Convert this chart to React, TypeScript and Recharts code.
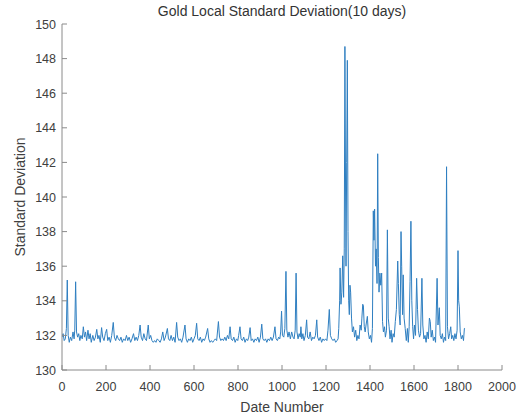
import React from 'react';
import { LineChart, Line, XAxis, YAxis } from 'recharts';

const chartTitle = 'Gold Local Standard Deviation(10 days)';
const xLabel = 'Date Number';
const yLabel = 'Standard Deviation';

const xTicks = [0, 200, 400, 600, 800, 1000, 1200, 1400, 1600, 1800, 2000];
const yTicks = [130, 132, 134, 136, 138, 140, 142, 144, 146, 148, 150];

// date number, standard deviation
const seg0: [number, number][] = [
  [0, 131.9], [5, 132.1], [10, 131.7], [15, 131.8], [20, 132.4], [24, 135.2], [28, 132.0], [33, 131.6],
  [38, 131.9], [44, 131.7], [50, 132.2], [55, 131.8], [58, 132.3], [62, 135.1], [66, 132.2], [71, 131.9],
  [76, 132.1], [81, 131.7], [86, 132.0], [92, 131.8], [97, 132.5], [102, 131.9], [107, 132.2], [112, 131.7],
  [118, 132.3], [123, 131.8], [128, 132.1], [133, 131.6], [140, 132.0], [146, 131.7], [152, 131.9], [158, 132.35],
  [163, 131.8], [168, 132.0], [174, 131.6], [180, 132.45], [185, 131.9], [191, 131.7], [197, 132.1], [203, 132.35],
  [208, 131.7], [214, 131.9], [220, 131.6], [226, 132.0], [233, 132.75], [238, 131.9], [244, 131.7],
];
const seg1: [number, number][] = [
  [250, 132.0], [256, 131.8], [262, 131.7], [268, 131.9], [274, 131.6], [280, 131.8], [287, 131.7], [293, 132.0],
  [299, 131.7], [305, 131.9], [312, 131.6], [318, 131.8], [325, 132.1], [331, 131.7], [337, 131.9], [343, 131.7],
  [349, 132.0], [355, 132.6], [360, 131.9], [366, 131.7], [372, 132.1], [378, 131.8], [384, 131.7], [392, 132.6],
  [397, 131.8], [403, 132.0], [409, 131.7], [415, 131.6], [421, 131.7], [427, 131.6], [433, 131.8], [440, 131.7],
  [446, 131.6], [452, 131.8], [458, 132.2], [464, 131.7], [470, 131.9], [479, 132.4], [484, 131.8], [490, 131.7],
  [496, 132.0],
];
const seg2: [number, number][] = [
  [502, 131.7], [508, 131.9], [514, 131.6], [521, 132.75], [526, 131.9], [532, 131.7], [538, 131.8], [544, 131.6],
  [550, 131.9], [559, 132.6], [564, 131.8], [570, 131.6], [576, 131.8], [582, 131.7], [588, 131.9], [594, 131.6],
  [600, 131.8], [606, 132.0], [612, 132.7], [617, 131.8], [623, 131.7], [629, 131.9], [635, 131.6], [641, 131.8],
  [647, 131.7], [653, 131.9], [662, 132.4], [667, 131.8], [673, 131.6], [679, 131.7], [685, 131.6], [691, 131.7],
  [697, 131.8], [703, 131.7], [711, 132.8], [716, 131.9], [722, 131.7], [728, 131.8], [734, 131.7], [740, 131.9],
  [746, 131.7],
];
const seg3: [number, number][] = [
  [752, 132.0], [758, 131.8], [764, 132.5], [769, 131.8], [775, 131.7], [781, 131.9], [787, 131.6], [793, 131.8],
  [799, 131.7], [803, 132.0], [809, 132.5], [814, 131.8], [820, 131.7], [826, 131.9], [832, 131.6], [838, 131.8],
  [844, 131.7], [849, 131.9], [855, 132.45], [860, 131.7], [866, 131.8], [872, 131.6], [878, 131.8], [884, 131.7],
  [890, 131.9], [896, 131.6], [902, 131.9], [908, 132.65], [913, 131.8], [919, 131.7], [925, 131.8], [931, 131.6],
  [937, 131.8], [943, 131.7], [949, 131.9], [955, 131.7], [961, 131.9], [968, 132.5], [973, 131.8], [979, 131.7],
  [985, 131.9], [990, 131.8],
];
const seg4: [number, number][] = [
  [994, 132.2], [998, 133.4], [1002, 132.0], [1008, 131.9], [1013, 132.4], [1018, 135.7], [1022, 132.3], [1027, 131.9],
  [1032, 132.2], [1038, 131.8], [1044, 132.2], [1050, 131.9], [1055, 131.8], [1060, 132.3], [1064, 135.6], [1068, 132.2],
  [1073, 131.8], [1078, 132.1], [1083, 131.9], [1086, 132.5], [1090, 131.8], [1095, 132.1], [1100, 131.7], [1106, 132.0],
  [1112, 132.9], [1116, 131.9], [1122, 131.8], [1128, 132.2], [1134, 131.7], [1140, 131.9], [1146, 131.8], [1152, 132.0],
  [1158, 132.9], [1162, 131.9], [1168, 131.7], [1174, 131.9], [1180, 131.6], [1186, 131.8], [1192, 131.7], [1198, 131.8],
  [1204, 131.7], [1209, 132.3], [1215, 133.5], [1220, 132.0], [1226, 131.8], [1232, 131.7], [1238, 131.8], [1244, 131.6],
  [1250, 131.7], [1255, 131.8],
];
const seg5: [number, number][] = [
  [1258, 132.4], [1262, 134.0], [1264, 135.9], [1268, 133.8], [1272, 134.5], [1276, 136.6], [1280, 134.2], [1283, 137.0],
  [1286, 148.7], [1289, 140.0], [1291, 136.0], [1294, 142.0], [1297, 147.9], [1300, 138.0], [1303, 134.0], [1306, 133.2],
  [1309, 134.9], [1312, 134.5], [1316, 133.0], [1320, 132.2], [1325, 132.5], [1330, 131.9], [1335, 132.3], [1340, 131.7],
  [1345, 132.0], [1350, 131.8], [1355, 132.6], [1360, 132.3], [1363, 133.0], [1367, 133.8], [1370, 133.7], [1374, 132.5],
  [1378, 132.2], [1382, 132.6], [1388, 133.1], [1392, 132.2], [1397, 131.8], [1402, 132.0], [1407, 131.6], [1411, 132.4],
  [1415, 139.2], [1418, 137.5], [1421, 139.3], [1425, 136.0], [1428, 137.0], [1432, 135.0], [1435, 142.5], [1438, 136.5],
  [1441, 134.5], [1445, 135.6], [1449, 134.9], [1453, 135.6], [1457, 132.8],
];
const seg6: [number, number][] = [
  [1461, 132.2], [1466, 132.5], [1470, 131.9], [1475, 132.3], [1479, 138.1], [1483, 133.0], [1487, 132.5], [1491, 131.8],
  [1496, 132.3], [1500, 131.6], [1505, 132.1], [1510, 131.9], [1515, 132.8], [1520, 133.5], [1526, 136.3], [1529, 135.0],
  [1533, 133.2], [1537, 132.6], [1541, 138.0], [1544, 136.0], [1548, 133.2], [1551, 135.5], [1555, 133.0], [1560, 132.4],
  [1565, 131.7], [1570, 132.4], [1574, 131.6], [1578, 132.5], [1582, 135.1], [1586, 138.6], [1590, 134.0], [1594, 132.5],
  [1598, 131.8], [1602, 132.6], [1607, 132.0], [1612, 135.3], [1616, 133.5], [1620, 132.3], [1625, 131.9], [1630, 132.1],
  [1636, 135.3], [1640, 132.6], [1645, 131.8], [1650, 132.0], [1655, 131.6], [1660, 132.2], [1665, 131.8], [1670, 133.0],
  [1674, 132.8], [1678, 131.9], [1683, 132.3], [1688, 131.7], [1693, 131.9], [1698, 131.6], [1705, 135.3], [1709, 132.6],
  [1715, 133.6], [1719, 132.0], [1724, 131.8], [1729, 132.1], [1734, 131.6], [1739, 131.9], [1744, 131.7], [1748, 141.75],
  [1752, 132.5], [1757, 131.8], [1762, 132.1], [1767, 132.5], [1771, 131.8], [1776, 132.0], [1781, 131.7], [1786, 132.1],
  [1791, 131.8], [1796, 132.3], [1800, 136.9], [1803, 134.0], [1806, 133.65], [1810, 132.2], [1815, 131.8], [1820, 132.0],
  [1825, 131.7], [1829, 132.4], [1832, 132.4],
];

const data = [...seg0, ...seg1, ...seg2, ...seg3, ...seg4, ...seg5, ...seg6].map(([x, y]) => ({ x, y }));

const FONT = '"Liberation Sans", Arial, Helvetica, sans-serif';
const AXIS = '#8a8a8a';
const TXT = '#404040';

const BottomTick = (p: any) => (
  <g>
    <line x1={p.x} y1={p.y} x2={p.x} y2={p.y - 5} stroke={AXIS} strokeWidth={1} />
    <text x={p.x} y={p.y + 21} textAnchor="middle" fill={TXT} fontSize={12.5} fontFamily={FONT}>
      {p.payload.value}
    </text>
  </g>
);
const TopTick = (p: any) => (
  <line x1={p.x} y1={p.y} x2={p.x} y2={p.y + 5} stroke={AXIS} strokeWidth={1} />
);
const LeftTick = (p: any) => (
  <g>
    <line x1={p.x} y1={p.y} x2={p.x + 5} y2={p.y} stroke={AXIS} strokeWidth={1} />
    <text x={p.x - 6} y={p.y + 4.5} textAnchor="end" fill={TXT} fontSize={12.5} fontFamily={FONT}>
      {p.payload.value}
    </text>
  </g>
);
const RightTick = (p: any) => (
  <line x1={p.x} y1={p.y} x2={p.x - 5} y2={p.y} stroke={AXIS} strokeWidth={1} />
);

export default function App() {
  return (
    <div style={{ position: 'absolute', left: 0, top: 0, width: 517, height: 416, background: '#fff' }}>
      <LineChart width={517} height={416} data={data} margin={{ top: 24, right: 15, bottom: 0, left: 0 }}>
        <XAxis
          xAxisId="b"
          dataKey="x"
          type="number"
          domain={[0, 2000]}
          allowDataOverflow
          ticks={xTicks}
          interval={0}
          height={46}
          tickSize={0}
          tickMargin={0}
          tick={<BottomTick />}
          axisLine={{ stroke: AXIS }}
        />
        <XAxis
          xAxisId="t"
          orientation="top"
          dataKey="x"
          type="number"
          domain={[0, 2000]}
          allowDataOverflow
          ticks={xTicks}
          interval={0}
          height={0}
          tickSize={0}
          tickMargin={0}
          tick={<TopTick />}
          axisLine={{ stroke: AXIS }}
        />
        <YAxis
          yAxisId="l"
          type="number"
          domain={[130, 150]}
          allowDataOverflow
          ticks={yTicks}
          interval={0}
          width={62}
          tickSize={0}
          tickMargin={0}
          tick={<LeftTick />}
          axisLine={{ stroke: AXIS }}
        />
        <YAxis
          yAxisId="r"
          orientation="right"
          type="number"
          domain={[130, 150]}
          allowDataOverflow
          ticks={yTicks}
          interval={0}
          width={0}
          tickSize={0}
          tickMargin={0}
          tick={<RightTick />}
          axisLine={{ stroke: AXIS }}
        />
        <Line
          xAxisId="t"
          yAxisId="r"
          dataKey="y"
          stroke="none"
          dot={false}
          activeDot={false}
          isAnimationActive={false}
        />
        <Line
          xAxisId="b"
          yAxisId="l"
          dataKey="y"
          stroke="#2f7fc1"
          strokeWidth={1}
          dot={false}
          activeDot={false}
          isAnimationActive={false}
        />
      </LineChart>
      <svg width={517} height={416} style={{ position: 'absolute', left: 0, top: 0, pointerEvents: 'none' }}>
        <text x={282} y={16} textAnchor="middle" fill="#333" fontSize={14} fontFamily={FONT}>
          {chartTitle}
        </text>
        <text x={282} y={412} textAnchor="middle" fill={TXT} fontSize={14} fontFamily={FONT}>
          {xLabel}
        </text>
        <text transform="translate(25,197) rotate(-90)" textAnchor="middle" fill={TXT} fontSize={14} fontFamily={FONT}>
          {yLabel}
        </text>
      </svg>
    </div>
  );
}
